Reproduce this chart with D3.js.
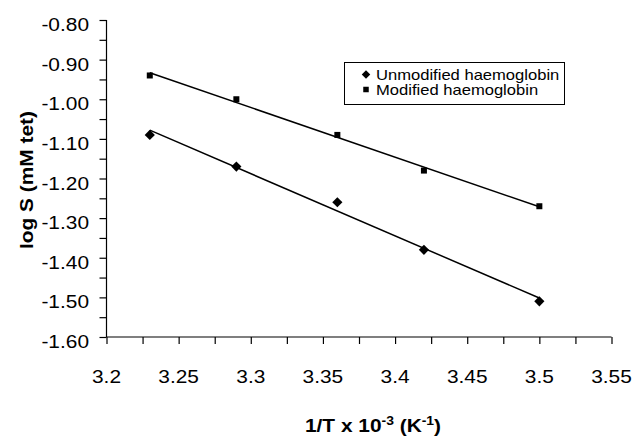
<!DOCTYPE html>
<html>
<head>
<meta charset="utf-8">
<script src="https://cdn.jsdelivr.net/npm/d3@7"></script>
<style>
  body { margin: 0; background: #fff; }
  text { font-family: "Liberation Sans", Arial, sans-serif; fill: #000; }
</style>
</head>
<body>
<div id="chart"></div>
<script>
// data
const invT = [3.23, 3.29, 3.36, 3.42, 3.50];
const unmodified = [-1.09, -1.17, -1.26, -1.38, -1.51];
const modified = [-0.94, -1.00, -1.09, -1.18, -1.27];
const seriesNames = ["Unmodified haemoglobin", "Modified haemoglobin"];
const xTicks = [3.2, 3.25, 3.3, 3.35, 3.4, 3.45, 3.5, 3.55];
const yTicks = [-0.8, -0.9, -1.0, -1.1, -1.2, -1.3, -1.4, -1.5, -1.6];

const width = 634;
const height = 438;
const stretch = 1.16; // text in the original looks a bit wide

const svg = d3.select("#chart")
  .append("svg")
  .attr("width", width)
  .attr("height", height);

const x = d3.scaleLinear().domain([3.2, 3.55]).range([106.5, 611.5]);
const y = d3.scaleLinear().domain([-1.6, -0.8]).range([337, 20]);

// least squares trend line
function fit(xs, ys) {
  const mx = d3.mean(xs), my = d3.mean(ys);
  const b = d3.sum(xs, (v, i) => (v - mx) * (ys[i] - my)) / d3.sum(xs, v => (v - mx) * (v - mx));
  return v => my + b * (v - mx);
}

// y axis
const yAxis = svg.append("g")
  .attr("transform", `translate(${x(3.2)},0)`)
  .call(d3.axisLeft(y).tickValues(d3.range(0, 17).map(i => -1.6 + i * 0.05)).tickSize(7).tickFormat(""));
yAxis.select(".domain").attr("d", `M0,${y(-0.8)}V${y(-1.6)}`);

svg.append("g").selectAll("text")
  .data(yTicks)
  .join("text")
  .attr("transform", d => `translate(89,${y(d) + 11}) scale(${stretch},1)`)
  .attr("text-anchor", "end")
  .attr("font-size", 18)
  .text(d => d.toFixed(2));

// x axis
const xAxis = svg.append("g")
  .attr("transform", `translate(0,${y(-1.6)})`)
  .call(d3.axisBottom(x).tickValues(d3.range(0, 15).map(i => 3.2 + i * 0.025)).tickSize(7).tickFormat(""));
xAxis.select(".domain").attr("d", `M${x(3.2)},0H${x(3.55)}`);

svg.append("g").selectAll("text")
  .data(xTicks)
  .join("text")
  .attr("transform", d => `translate(${x(d)},383) scale(${stretch},1)`)
  .attr("text-anchor", "middle")
  .attr("font-size", 18)
  .text(d => String(d));

svg.selectAll(".tick line, .domain").attr("stroke", "#000").attr("stroke-width", 1.2);

// trend lines
const series = [
  { name: seriesNames[0], values: unmodified, shape: "diamond" },
  { name: seriesNames[1], values: modified, shape: "square" }
];

series.forEach(s => {
  const f = fit(invT, s.values);
  const x0 = d3.min(invT), x1 = d3.max(invT);
  svg.append("line")
    .attr("x1", x(x0)).attr("y1", y(f(x0)))
    .attr("x2", x(x1)).attr("y2", y(f(x1)))
    .attr("stroke", "#000")
    .attr("stroke-width", 1.5);
});

function marker(g, shape, big) {
  if (shape === "diamond") {
    const s = big ? 7.2 : 6;
    g.append("rect")
      .attr("x", -s / 2).attr("y", -s / 2)
      .attr("width", s).attr("height", s)
      .attr("transform", "rotate(45)")
      .attr("fill", "#000");
  } else {
    const s = big ? 6 : 5.5;
    g.append("rect")
      .attr("x", -s / 2).attr("y", -s / 2)
      .attr("width", s).attr("height", s)
      .attr("fill", "#000");
  }
}

series.forEach(s => {
  svg.append("g").selectAll("g")
    .data(invT.map((v, i) => [v, s.values[i]]))
    .join("g")
    .attr("transform", d => `translate(${x(d[0])},${y(d[1])})`)
    .each(function () { marker(d3.select(this), s.shape, true); });
});

// legend
const legend = svg.append("g");
legend.append("rect")
  .attr("x", 344.5).attr("y", 62.5)
  .attr("width", 220).attr("height", 42)
  .attr("fill", "#fff")
  .attr("stroke", "#000")
  .attr("stroke-width", 1);

series.forEach((s, i) => {
  const row = legend.append("g").attr("transform", `translate(366,${74.5 + i * 15})`);
  marker(row, s.shape, false);
  row.append("text")
    .attr("transform", `translate(10,5) scale(${stretch},1)`)
    .attr("font-size", 14.3)
    .text(s.name);
});

// axis titles
const yTitle = svg.append("text")
  .attr("transform", `translate(33,180) rotate(-90) scale(${stretch},1)`)
  .attr("text-anchor", "middle")
  .attr("font-size", 18)
  .attr("font-weight", "bold")
  .text("log S (mM tet)");

const xTitle = svg.append("text")
  .attr("transform", `translate(373,432) scale(${stretch},1)`)
  .attr("text-anchor", "middle")
  .attr("font-size", 18)
  .attr("font-weight", "bold");
xTitle.append("tspan").text("1/T x 10");
xTitle.append("tspan").attr("font-size", 12).attr("dy", -7).text("-3");
xTitle.append("tspan").attr("dy", 7).text(" (K");
xTitle.append("tspan").attr("font-size", 12).attr("dy", -7).text("-1");
xTitle.append("tspan").attr("dy", 7).text(")");
</script>
</body>
</html>
